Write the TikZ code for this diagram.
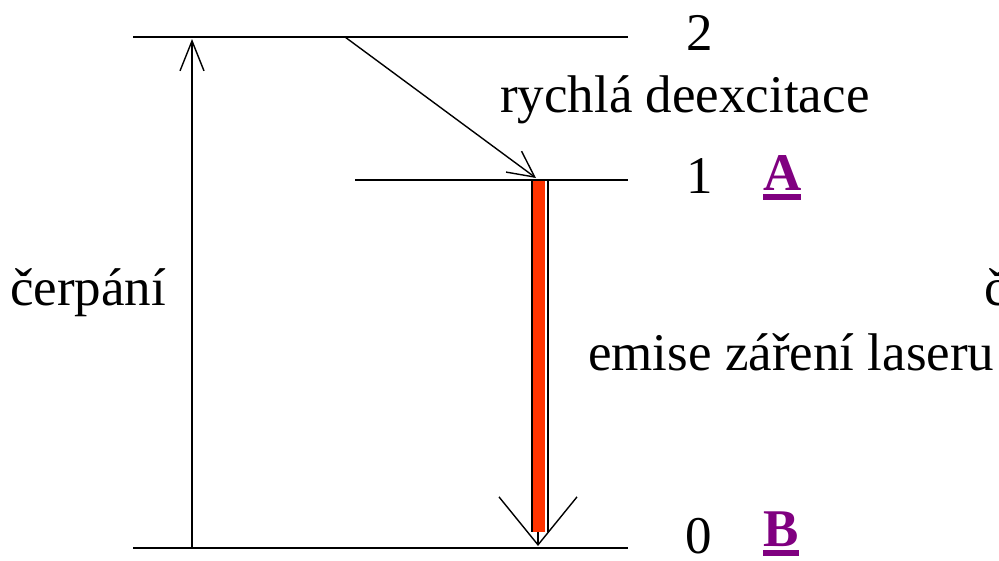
\documentclass[tikz,border=0pt]{standalone}
\usepackage{fontspec}
\setmainfont{Liberation Serif}
\usetikzlibrary{arrows.meta, positioning, calc}
\definecolor{laserRed}{HTML}{FF3300}
\definecolor{linkPurple}{HTML}{800080}
\tikzset{
  level/.style={line width=2.4pt},
  thinarrow/.style={line width=1.4pt},
  lbl/.style={anchor=base west, inner sep=0pt, font=\fontsize{53}{58}\selectfont},
  linklbl/.style={lbl, linkPurple, font=\fontsize{53}{58}\selectfont\bfseries}
}
\newcommand{\ulink}[1]{\vtop{\hbox{#1}\kern4pt\hrule height 6pt}}
\begin{document}
\begin{tikzpicture}[x=1pt, y=-1pt]
  \useasboundingbox (0,0) rectangle (999,560);
  \clip (0,0) rectangle (999,560);

  % Energy levels
  \coordinate (l2a) at (133,37);  \coordinate (l2b) at (628,37);
  \coordinate (l1a) at (355,180); \coordinate (l1b) at (628,180);
  \coordinate (l0a) at (133,548); \coordinate (l0b) at (628,548);
  \draw[level] (l2a) -- (l2b);
  \draw[level] (l1a) -- (l1b);
  \draw[level] (l0a) -- (l0b);

  % Pumping
  \coordinate (pumpFrom) at (192,548);
  \coordinate (pumpTo) at (192,39);
  \draw[thinarrow, -{Straight Barb[length=30pt, width=24pt]}] (pumpFrom) -- (pumpTo);

  % Fast deexcitation
  \coordinate (fastFrom) at (345,37);
  \coordinate (fastTo) at (536,178);
  \draw[thinarrow, -{Straight Barb[length=26pt, width=26pt]}] (fastFrom) -- (fastTo);

  % Laser emission
  \coordinate (laserFrom) at (538,182);
  \coordinate (laserTo) at (538,546);
  \draw[thinarrow, -{Straight Barb[length=48pt, width=78pt]}] (laserFrom) -- (laserTo);
  \fill[laserRed] (532,181) rectangle (545,532);
  \draw[line width=2pt] (532,181) -- (532,532);
  \draw[line width=2pt] (548,181) -- (548,532);

  % Labels
  \node[lbl] (n2) at (686,50) {2};
  \node[lbl] (n1) at (686,193) {1};
  \node[lbl] (n0) at (685,553) {0};
  \node[linklbl] (lA) at (763,190) {\ulink{A}};
  \node[linklbl] (lB) at (763,546) {\ulink{B}};
  \node[lbl] (fast) at (500,112) {rychlá deexcitace};
  \node[lbl] (pump) at (10,305) {čerpání};
  \node[lbl] (emis) at (588,370) {emise záření laseru};
  \node[lbl] (cut) at (984,305) {č};
\end{tikzpicture}
\end{document}
